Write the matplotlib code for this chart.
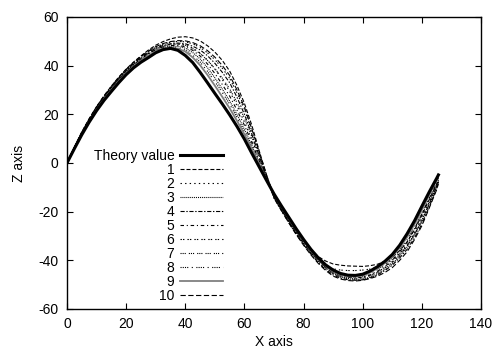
import matplotlib
matplotlib.use("Agg")
import matplotlib.pyplot as plt

plt.rcParams['font.family'] = ['Liberation Sans', 'DejaVu Sans']
plt.rcParams['font.size'] = 10
plt.rcParams['lines.scale_dashes'] = False
plt.rcParams['axes.unicode_minus'] = False

# sample positions along X (shared by all curves), step 2.5
x = [i * 2.5 for i in range(51)] + [125.6]

theory = [0, 5.9, 11.6, 16.8, 21.5, 25.7, 29.4, 33.0, 36.3, 39.1,
          41.4, 43.3, 45.3, 46.6, 47.1, 46.3, 44.2, 41.3, 37.3, 33.0,
          28.6, 24.3, 19.8, 15.0, 9.8, 4.0, -1.6, -7.2, -12.7, -17.6,
          -22.3, -27.0, -31.4, -35.5, -39.0, -41.9, -44.0, -45.4, -46.1, -46.2,
          -45.7, -44.4, -42.6, -40.4, -37.6, -33.8, -29.1, -23.8, -17.8, -11.9,
          -6.3, -4.9]

run1 = [0, 6.5, 12.8, 18.2, 23.2, 27.6, 31.6, 35.3, 38.6, 41.5,
        44.0, 46.4, 48.4, 49.9, 51.0, 51.7, 51.9, 51.4, 50.2, 48.2,
        45.6, 42.2, 37.8, 31.8, 24.5, 15.5, 5.0, -5.0, -13.5, -18.8,
        -23.5, -28.0, -32.0, -35.5, -38.5, -40.3, -41.5, -42.0, -42.3, -42.4,
        -42.5, -42.2, -41.6, -40.4, -38.8, -36.0, -32.5, -27.5, -21.5, -15.0,
        -8.8, -7.0]
run2 = [0, 6.3, 12.3, 17.6, 22.6, 26.9, 30.8, 34.4, 37.6, 40.4,
        42.9, 45.0, 46.8, 48.0, 48.7, 48.9, 48.5, 47.2, 45.2, 42.3,
        38.6, 34.3, 29.5, 23.5, 16.8, 9.5, 2.0, -6.0, -13.8, -19.1,
        -24.0, -28.7, -33.0, -36.9, -40.2, -42.9, -45.0, -46.3, -47.0, -47.2,
        -47.0, -46.1, -44.8, -42.9, -40.5, -37.3, -33.5, -28.5, -22.5, -16.0,
        -9.5, -7.5]
run3 = [0, 6.2, 12.0, 17.3, 22.3, 26.6, 30.4, 34.0, 37.2, 40.0,
        42.5, 44.6, 46.3, 47.4, 48.0, 47.9, 47.2, 45.4, 42.8, 39.2,
        35.0, 30.4, 25.5, 19.9, 13.8, 7.2, 0.5, -6.5, -13.5, -18.7,
        -23.6, -28.2, -32.5, -36.5, -40.0, -43.0, -45.3, -46.8, -47.5, -47.9,
        -47.8, -46.9, -45.5, -43.7, -41.5, -38.3, -34.5, -29.5, -23.5, -16.5,
        -9.0, -6.8]
run4 = [0, 6.4, 12.5, 17.9, 22.8, 27.1, 31.0, 34.7, 38.0, 40.9,
        43.3, 45.4, 47.2, 48.3, 49.0, 49.3, 49.0, 48.0, 46.5, 44.1,
        41.0, 37.3, 33.0, 27.0, 20.0, 11.8, 3.0, -6.0, -14.5, -19.6,
        -24.5, -29.2, -33.5, -37.5, -41.0, -43.8, -46.0, -47.3, -48.0, -48.2,
        -48.0, -47.2, -46.0, -44.2, -42.0, -39.0, -35.5, -30.8, -25.0, -18.0,
        -10.5, -8.0]
run5 = [0, 6.3, 12.2, 17.5, 22.5, 26.8, 30.6, 34.2, 37.4, 40.2,
        42.7, 44.8, 46.6, 47.7, 48.3, 48.3, 47.8, 46.3, 44.0, 40.7,
        36.8, 32.3, 27.5, 21.7, 15.5, 8.4, 1.0, -6.2, -13.2, -18.3,
        -23.2, -27.9, -32.2, -36.2, -39.8, -42.6, -44.8, -46.2, -47.0, -47.2,
        -47.0, -46.0, -44.5, -42.5, -40.0, -36.5, -32.5, -27.0, -21.0, -14.5,
        -8.0, -6.0]
run6 = [0, 6.5, 12.6, 18.0, 23.0, 27.3, 31.3, 35.0, 38.3, 41.1,
        43.6, 45.8, 47.6, 48.8, 49.6, 50.0, 49.8, 49.0, 47.5, 45.3,
        42.5, 39.0, 34.8, 28.8, 22.0, 13.2, 4.0, -5.2, -14.0, -19.2,
        -24.2, -28.8, -33.2, -37.0, -40.2, -42.2, -43.5, -44.0, -44.2, -44.2,
        -44.0, -43.6, -42.8, -41.5, -39.8, -37.2, -34.0, -29.3, -24.0, -17.0,
        -10.0, -7.8]
run7 = [0, 6.4, 12.4, 17.8, 22.7, 27.0, 30.9, 34.5, 37.8, 40.6,
        43.1, 45.2, 47.0, 48.1, 48.8, 48.9, 48.4, 47.0, 45.0, 42.2,
        38.8, 34.9, 30.5, 24.8, 18.5, 10.8, 2.5, -5.8, -13.8, -18.9,
        -23.8, -28.5, -32.8, -36.8, -40.3, -43.2, -45.5, -46.8, -47.5, -47.6,
        -47.3, -46.4, -45.0, -43.2, -41.0, -37.8, -34.2, -29.3, -23.8, -16.8,
        -9.8, -7.6]
run8 = [0, 6.2, 12.1, 17.4, 22.2, 26.4, 30.2, 33.8, 37.0, 39.8,
        42.2, 44.3, 46.0, 47.1, 47.6, 47.3, 46.4, 44.3, 41.5, 37.7,
        33.5, 29.0, 24.2, 18.7, 12.8, 6.5, 0.0, -6.6, -13.0, -18.1,
        -23.0, -27.6, -32.0, -36.1, -39.8, -42.6, -44.8, -46.1, -46.8, -46.9,
        -46.6, -45.4, -43.8, -41.7, -39.0, -35.5, -31.5, -26.3, -20.5, -14.0,
        -7.5, -5.5]
run9 = [0, 6.1, 11.9, 17.2, 22.0, 26.2, 30.0, 33.6, 36.9, 39.6,
        42.0, 44.1, 45.8, 47.0, 47.4, 47.0, 45.8, 43.4, 40.2, 36.2,
        31.8, 27.2, 22.5, 17.3, 11.8, 5.8, -0.5, -6.8, -13.0, -18.0,
        -22.8, -27.4, -31.8, -35.9, -39.5, -42.3, -44.6, -45.9, -46.6, -46.7,
        -46.3, -45.0, -43.3, -41.1, -38.5, -34.8, -30.5, -25.1, -19.3, -13.1,
        -7.0, -5.0]
run10 = [0, 6.5, 12.7, 18.1, 23.1, 27.5, 31.5, 35.2, 38.5, 41.3,
         43.8, 46.0, 47.8, 49.1, 49.9, 50.3, 50.2, 49.5, 48.2, 46.2,
         43.5, 40.1, 36.0, 30.0, 23.0, 14.0, 4.5, -5.0, -14.2, -19.5,
         -24.6, -29.4, -33.8, -37.8, -41.3, -44.2, -46.5, -47.7, -48.3, -48.5,
         -48.2, -47.5, -46.5, -45.0, -43.0, -40.0, -36.5, -31.5, -25.8, -18.5,
         -11.0, -8.5]

runs = [run1, run2, run3, run4, run5, run6, run7, run8, run9, run10]
run_labels = ['1', '2', '3', '4', '5', '6', '7', '8', '9', '10']

# gnuplot-like dash patterns (points)
styles = [
    dict(dashes=(2.9, 1.4)),
    dict(dashes=(1.0, 2.3)),
    dict(dashes=(0.7, 0.7)),
    dict(dashes=(3.0, 1.2, 1.0, 1.2)),
    dict(dashes=(2.5, 2.0, 0.8, 2.0)),
    dict(dashes=(1.0, 0.8, 1.0, 2.2)),
    dict(dashes=(0.8, 0.7, 0.8, 0.7, 0.8, 2.2)),
    dict(dashes=(0.8, 0.8, 0.8, 0.8, 0.8, 0.8, 0.8, 2.5, 0.8, 2.5)),
    dict(),
    dict(dashes=(3.8, 1.8)),
]

fig = plt.figure(figsize=(4.96, 3.49), dpi=100)
ax = fig.add_axes([67 / 496, 1 - 309 / 349, 414 / 496, 292 / 349])

ax.plot(x, theory, color='black', lw=2.2, label='Theory value', zorder=3)
for i, (z, lab) in enumerate(zip(runs, run_labels)):
    if i == 8:
        ax.plot(x, z, color='#808080', lw=1.3, label=lab)
    else:
        ax.plot(x, z, color='black', lw=0.8, label=lab, **styles[i])

ax.set_xlim(0, 140)
ax.set_ylim(-60, 60)
ax.set_xticks(range(0, 141, 20))
ax.set_yticks(range(-60, 61, 20))
ax.tick_params(direction='in', length=4.5, width=0.8, top=True, right=True, pad=6)
for s in ax.spines.values():
    s.set_linewidth(1.0)

ax.set_xlabel('X axis', labelpad=3)
ax.set_ylabel('Z axis', labelpad=9)

ax.legend(loc='upper right', bbox_to_anchor=(0.377, 0.548), frameon=False,
          markerfirst=False, borderpad=0, borderaxespad=0, labelspacing=0.0,
          handlelength=3.1, handletextpad=0.4)

fig.savefig('out.png', dpi=100)
